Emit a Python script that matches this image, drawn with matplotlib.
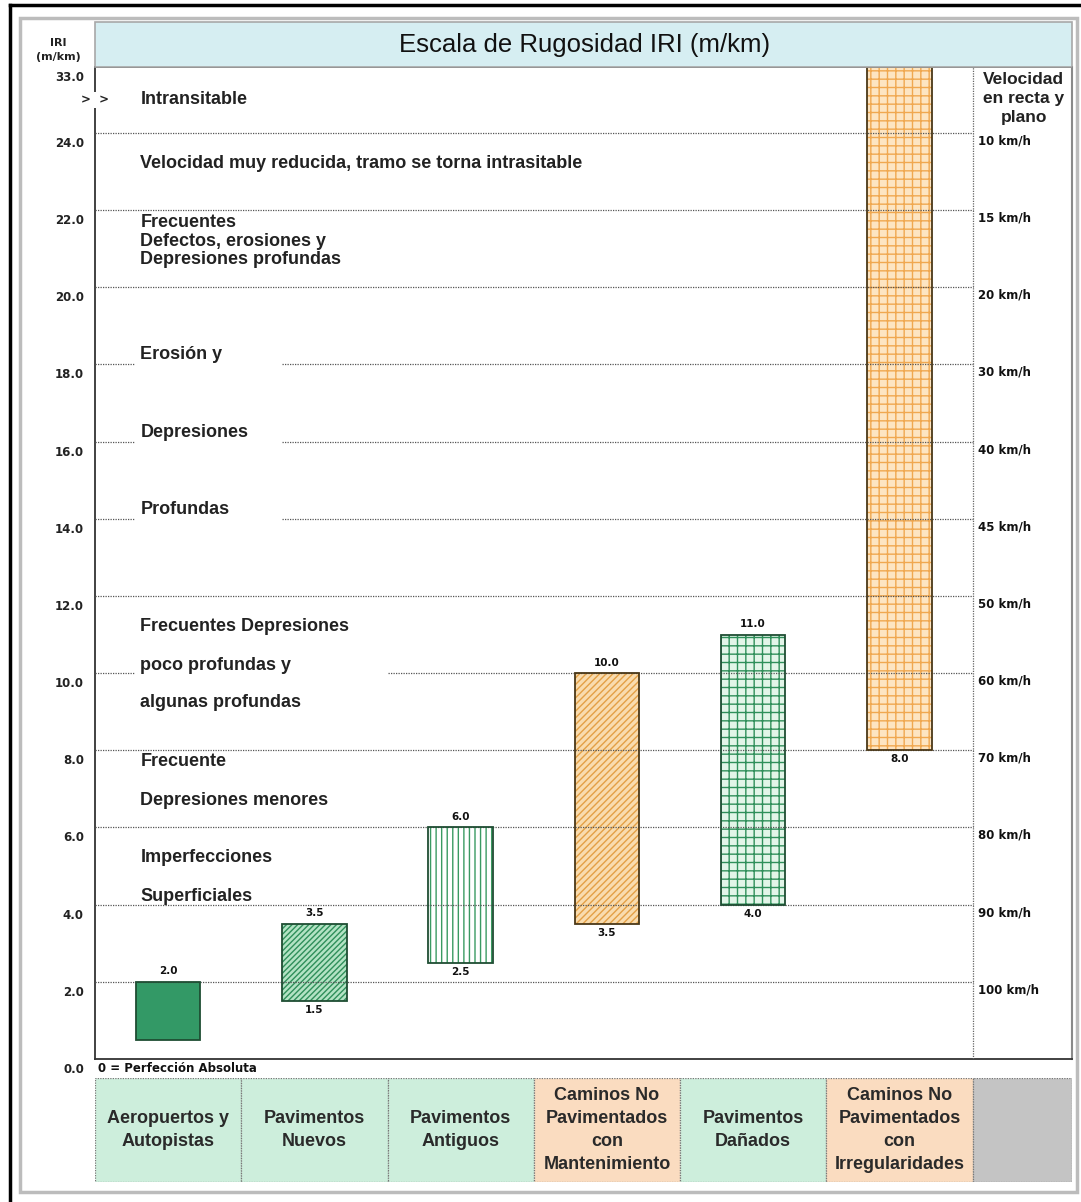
import matplotlib.pyplot as plt
import numpy as np
from matplotlib.patches import Rectangle
from matplotlib.lines import Line2D
from matplotlib.transforms import offset_copy

# --- datos ---
categorias = ['Aeropuertos y\nAutopistas', 'Pavimentos\nNuevos', 'Pavimentos\nAntiguos',
              'Caminos No\nPavimentados\ncon\nMantenimiento', 'Pavimentos\nDañados',
              'Caminos No\nPavimentados\ncon\nIrregularidades']
iri_min = [0.5, 1.5, 2.5, 3.5, 4.0, 8.0]
iri_max = [2.0, 3.5, 6.0, 10.0, 11.0, 33.0]
etiqueta_max = ['2.0', '3.5', '6.0', '10.0', '11.0', '']
etiqueta_min = ['', '1.5', '2.5', '3.5', '4.0', '8.0']

iri_ticks = [0, 2, 4, 6, 8, 10, 12, 14, 16, 18, 20, 22, 24, 33]
vel_iri = [24, 22, 20, 18, 16, 14, 12, 10, 8, 6, 4, 2]
velocidades = ['10 km/h', '15 km/h', '20 km/h', '30 km/h', '40 km/h', '45 km/h',
               '50 km/h', '60 km/h', '70 km/h', '80 km/h', '90 km/h', '100 km/h']

descripciones = ['Intransitable', 'Velocidad muy reducida, tramo se torna intrasitable',
                 'Frecuentes\nDefectos, erosiones y\nDepresiones profundas',
                 'Erosión y', 'Depresiones', 'Profundas',
                 'Frecuentes Depresiones', 'poco profundas y', 'algunas profundas',
                 'Frecuente', 'Depresiones menores', 'Imperfecciones', 'Superficiales']
desc_iri = [28.5, 23.22, 21.2, 18.25, 16.23, 14.23, 11.2, 10.21, 9.23, 7.72, 6.71, 5.21, 4.22]

# estilos de barras
relleno = ['#339966', '#b3e3c4', 'white', '#f9dcae', '#e2f5e8', '#fde5c2']
trama_color = ['#339966', '#2f8f5a', '#3a9a62', '#e3a045', '#2f8f5a', '#f0a850']
tramas = ['', '//////', '|||', '/////', '++', '++']
borde = ['#1f4d33', '#1f4d33', '#1f4d33', '#4a3818', '#1f4d33', '#4a3818']

col_colores = ['#cdeedc', '#cdeedc', '#cdeedc', '#fadcc0', '#cdeedc', '#fadcc0', '#c4c4c4']

fuente = 'Liberation Sans'
fuente_chica = 'DejaVu Sans'

# escala: tramo 24-33 comprimido
k = 0.19
def fwd(v):
    v = np.asarray(v, dtype=float)
    return np.where(v <= 24, v, 24 + (v - 24) * k)

def inv(p):
    p = np.asarray(p, dtype=float)
    return np.where(p <= 24, p, 24 + (p - 24) / k)

W, H = 1081, 1202
fig = plt.figure(figsize=(W / 100, H / 100), dpi=100)

def fx(px):
    return px / W

def fy(py):
    return 1 - py / H

# marcos
fig.add_artist(Line2D([fx(10), fx(10)], [fy(5), 0], color='black', lw=2.5))
fig.add_artist(Line2D([fx(10), 1], [fy(5), fy(5)], color='black', lw=2.5))
fig.add_artist(Rectangle((fx(20), fy(1192)), fx(1077) - fx(20), fy(18) - fy(1192),
                         fill=False, edgecolor='#bcbcbc', lw=2.5))
# cabecera
fig.add_artist(Rectangle((fx(95), fy(67)), fx(1072) - fx(95), fy(22) - fy(67),
                         facecolor='#d6eef2', edgecolor='#a8a8a8', lw=1.2))
fig.text(fx(585), fy(45), 'Escala de Rugosidad IRI (m/km)', ha='center', va='center',
         fontsize=18.5, family=fuente, color='#111')
fig.text(fx(58), fy(50), 'IRI\n(m/km)', ha='center', va='center', fontsize=8,
         fontweight='bold', family=fuente_chica, color='#222', linespacing=1.5)

ax = fig.add_axes([fx(95), fy(1059), fx(1072) - fx(95), fy(67) - fy(1059)])
ax.set_yscale('function', functions=(fwd, inv))
ax.set_ylim(0, 33)
ax.set_xlim(0, 6.68)

x = np.arange(len(categorias)) + 0.5
alto = np.array(iri_max) - np.array(iri_min)
ancho = 0.44
for i in range(len(x)):
    ax.bar(x[i], alto[i], bottom=iri_min[i], width=ancho, color=relleno[i],
           hatch=tramas[i], edgecolor=trama_color[i], linewidth=0, zorder=2)
    ax.bar(x[i], alto[i], bottom=iri_min[i], width=ancho, fill=False,
           edgecolor=borde[i], linewidth=1.3, zorder=4)

# lineas punteadas
segmentos = [(2, 0, 6), (4, 0, 6), (6, 0, 6), (8, 0, 6), (10, 0, 0.27), (10, 2.0, 6),
             (12, 0, 6), (14, 0, 0.27), (14, 1.28, 6), (16, 0, 0.27), (16, 1.28, 6),
             (18, 0, 0.27), (18, 1.28, 6), (20, 0, 6), (22, 0, 6), (24, 0, 6)]
for yv, x0, x1 in segmentos:
    ax.hlines(yv, x0, x1, colors='#555555', linestyles=(0, (1, 1)), lw=0.9, zorder=3)
ax.axvline(6.0, color='#666666', ls=(0, (1, 1)), lw=0.9, zorder=3)

# ejes
ax.set_yticks(iri_ticks)
ax.set_yticklabels([f'{t:.1f}' for t in iri_ticks], fontsize=8.5, fontweight='bold',
                   family=fuente_chica, color='#222')
ax.tick_params(axis='y', length=0, pad=8)
ax.set_xticks([])
for lab in ax.get_yticklabels():
    lab.set_transform(offset_copy(lab.get_transform(), fig=fig, y=-9, units='dots'))
for s in ['left', 'bottom', 'top']:
    ax.spines[s].set_color('#333333')
    ax.spines[s].set_linewidth(1.3)
ax.spines['right'].set_color('#8a8a8a')
ax.spines['right'].set_linewidth(1.5)

# textos descriptivos
for txt, yv in zip(descripciones, desc_iri):
    ax.text(0.31, yv, txt, ha='left', va='center', fontsize=13, fontweight='bold',
            family=fuente, color='#222', linespacing=1.12, zorder=5)
ax.text(0, 28.5, '>  >', ha='center', va='center', fontsize=8.5, fontweight='bold',
        family=fuente_chica, color='#222',
        bbox=dict(facecolor='white', edgecolor='none', pad=1), zorder=6)

# velocidades
abajo = offset_copy(ax.transData, fig=fig, y=-8, units='dots')
for v, lab in zip(vel_iri, velocidades):
    ax.text(6.04, v, lab, ha='left', va='center', fontsize=8.5, fontweight='bold',
            family=fuente_chica, color='#111', transform=abajo)
ax.text(6.35, 28.7, 'Velocidad\nen recta y\nplano', ha='center', va='center',
        fontsize=12.5, fontweight='bold', family=fuente, color='#222',
        linespacing=1.35)

# etiquetas de barras
for i in range(len(x)):
    if etiqueta_max[i]:
        ax.annotate(etiqueta_max[i], (x[i], iri_max[i]), xytext=(0, 4), textcoords='offset points',
                    ha='center', va='bottom', fontsize=7.5, fontweight='bold',
                    family=fuente_chica, color='#111')
    if etiqueta_min[i]:
        ax.annotate(etiqueta_min[i], (x[i], iri_min[i]), xytext=(0, -3), textcoords='offset points',
                    ha='center', va='top', fontsize=7.5, fontweight='bold',
                    family=fuente_chica, color='#111')

fig.text(fx(98), fy(1069), '0 = Perfección Absoluta', ha='left', va='center', fontsize=8.5,
         fontweight='bold', family=fuente_chica, color='#111')

# cajas de categorias
ax2 = fig.add_axes([fx(95), fy(1182), fx(1072) - fx(95), fy(1078) - fy(1182)])
ax2.set_xlim(0, 6.68)
ax2.set_ylim(0, 1)
anchos = [1, 1, 1, 1, 1, 1, 0.68]
ax2.bar(np.arange(7), 1, width=anchos, align='edge', color=col_colores,
        edgecolor='#777777', linestyle=(0, (1, 1)), linewidth=0.9)
for i, c in enumerate(categorias):
    ax2.text(i + 0.5, 0.5, c, ha='center', va='center', fontsize=13, fontweight='bold',
             family=fuente, color='#2a2a2a', linespacing=1.45)
ax2.axis('off')

plt.savefig('out.png', dpi=100)
